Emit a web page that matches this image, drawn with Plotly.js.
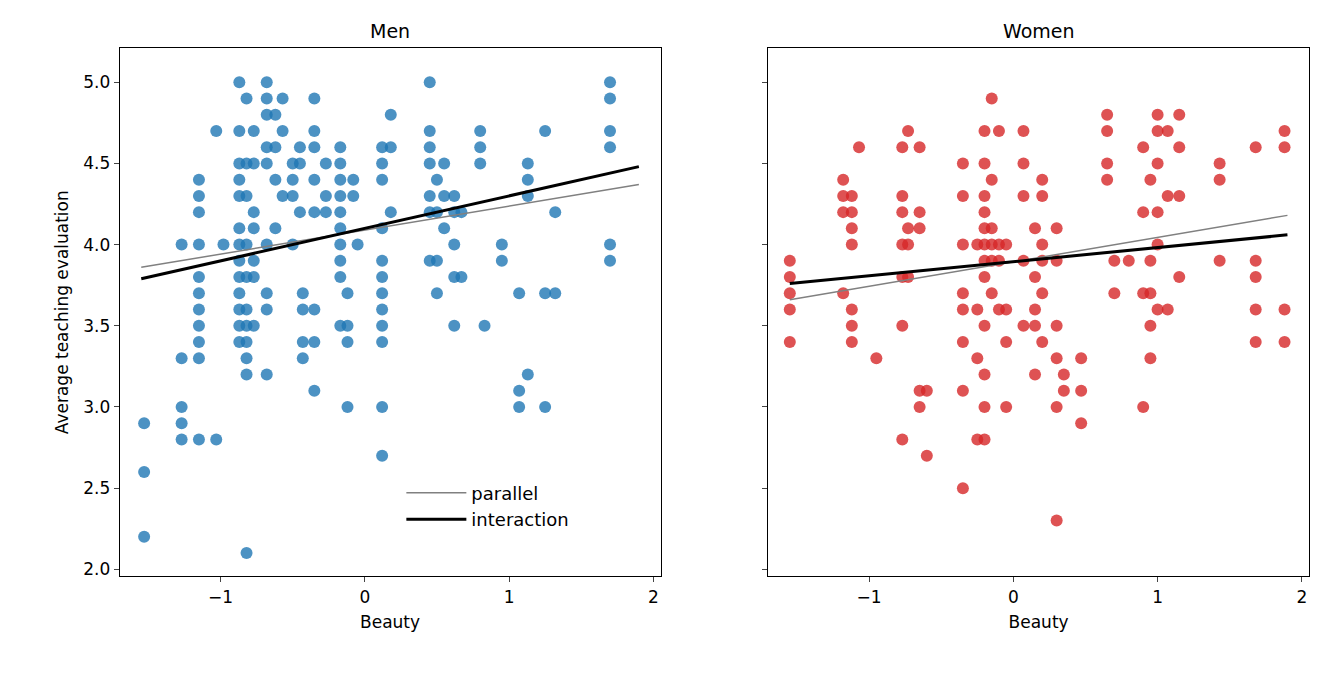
<!DOCTYPE html>
<html><head><meta charset="utf-8">
<script src="https://cdn.plot.ly/plotly-3.0.1.min.js"></script>
<style>body{margin:0}#chart{width:1329px;height:678px}</style>
</head><body><div id="chart"></div>
<script>
// beauty value, then the evaluations seen at that beauty value
var menCols = [
  [-1.53,[2.9,2.6,2.2]],
  [-1.27,[4.0,3.3,3.0,2.9,2.8]],
  [-1.15,[4.4,4.3,4.2,4.0,3.8,3.7,3.6,3.5,3.4,3.3,2.8]],
  [-1.03,[4.7,2.8]],
  [-0.98,[4.0]],
  [-0.87,[5.0,4.7,4.5,4.4,4.3,4.1,4.0,3.9,3.8,3.7,3.6,3.5,3.4]],
  [-0.82,[4.9,4.5,4.3,4.0,3.8,3.6,3.5,3.4,3.3,3.2,2.1]],
  [-0.77,[4.7,4.5,4.2,4.1,3.9,3.8,3.5]],
  [-0.68,[5.0,4.9,4.8,4.6,4.5,4.0,3.7,3.6,3.2]],
  [-0.62,[4.8,4.6,4.4,4.1]],
  [-0.57,[4.9,4.7,4.3]],
  [-0.5,[4.5,4.4,4.3,4.0]],
  [-0.45,[4.6,4.5,4.2]],
  [-0.43,[3.7,3.6,3.4,3.3]],
  [-0.35,[4.9,4.7,4.6,4.4,4.2,3.6,3.4,3.1]],
  [-0.27,[4.5,4.3,4.2]],
  [-0.17,[4.6,4.5,4.4,4.3,4.2,4.1,4.0,3.9,3.8,3.5]],
  [-0.12,[3.7,3.5,3.4,3.0]],
  [-0.08,[4.4,4.3]],
  [-0.05,[4.0]],
  [0.12,[4.6,4.5,4.4,4.1,3.9,3.8,3.7,3.6,3.5,3.4,3.0,2.7]],
  [0.18,[4.8,4.6,4.2]],
  [0.45,[5.0,4.7,4.6,4.5,4.3,4.2,3.9]],
  [0.5,[4.4,4.2,3.9,3.7]],
  [0.55,[4.5,4.3,4.1]],
  [0.62,[4.3,4.2,4.0,3.8,3.5]],
  [0.67,[4.2,3.8]],
  [0.8,[4.7,4.6,4.5]],
  [0.83,[3.5]],
  [0.95,[4.0,3.9]],
  [1.07,[3.7,3.1,3.0]],
  [1.13,[4.5,4.4,4.3,3.2]],
  [1.25,[4.7,3.7,3.0]],
  [1.32,[4.2,3.7]],
  [1.7,[5.0,4.9,4.7,4.6,4.0,3.9]]
];
var womenCols = [
  [-1.55,[3.9,3.8,3.7,3.6,3.4]],
  [-1.18,[4.4,4.3,4.2,3.7]],
  [-1.12,[4.3,4.2,4.1,4.0,3.6,3.5,3.4]],
  [-1.07,[4.6]],
  [-0.95,[3.3]],
  [-0.77,[4.6,4.3,4.2,4.0,3.8,3.5,2.8]],
  [-0.73,[4.7,4.1,4.0,3.8]],
  [-0.65,[4.6,4.2,4.1,3.1,3.0]],
  [-0.6,[3.1,2.7]],
  [-0.35,[4.5,4.3,4.0,3.7,3.6,3.4,3.1,2.5]],
  [-0.25,[4.0,3.6,3.3,2.8]],
  [-0.2,[4.7,4.5,4.3,4.2,4.1,4.0,3.9,3.8,3.5,3.2,3.0,2.8]],
  [-0.15,[4.9,4.4,4.1,4.0,3.9,3.7]],
  [-0.1,[4.7,4.0,3.9,3.6]],
  [-0.05,[4.0,3.6,3.4,3.0]],
  [0.07,[4.7,4.5,4.3,3.9,3.5]],
  [0.15,[4.1,3.8,3.6,3.5,3.2]],
  [0.2,[4.4,4.3,4.0,3.9,3.7,3.4]],
  [0.3,[4.1,3.9,3.5,3.3,3.0,2.3]],
  [0.35,[3.2,3.1]],
  [0.47,[3.3,3.1,2.9]],
  [0.65,[4.8,4.7,4.5,4.4]],
  [0.7,[3.9,3.7]],
  [0.8,[3.9]],
  [0.9,[4.6,4.2,3.7,3.0]],
  [0.95,[4.4,3.9,3.7,3.5,3.3]],
  [1.0,[4.8,4.7,4.5,4.2,4.0,3.6]],
  [1.07,[4.7,4.3,3.6]],
  [1.15,[4.8,4.6,4.3,3.8]],
  [1.43,[4.5,4.4,3.9]],
  [1.68,[4.6,3.9,3.8,3.6,3.4]],
  [1.88,[4.7,4.6,3.6,3.4]]
];
var lineX = [-1.55, 1.9];
var menParallel = [3.86, 4.37];
var menInteraction = [3.79, 4.48];
var womenParallel = [3.66, 4.18];
var womenInteraction = [3.76, 4.06];

function flat(cols) {
  var x = [], y = [];
  cols.forEach(function(c) { c[1].forEach(function(v) { x.push(c[0]); y.push(v); }); });
  return { x: x, y: y };
}
var m = flat(menCols), w = flat(womenCols);

var traces = [
  { x: m.x, y: m.y, type: 'scatter', mode: 'markers', xaxis: 'x', yaxis: 'y', showlegend: false,
    marker: { size: 12, color: '#1f77b4', opacity: 0.8 } },
  { x: w.x, y: w.y, type: 'scatter', mode: 'markers', xaxis: 'x2', yaxis: 'y2', showlegend: false,
    marker: { size: 12, color: '#d62728', opacity: 0.8 } },
  { x: lineX, y: menParallel, type: 'scatter', mode: 'lines', name: 'parallel', xaxis: 'x', yaxis: 'y',
    line: { color: 'gray', width: 1.5 } },
  { x: lineX, y: menInteraction, type: 'scatter', mode: 'lines', name: 'interaction', xaxis: 'x', yaxis: 'y',
    line: { color: 'black', width: 3 } },
  { x: lineX, y: womenParallel, type: 'scatter', mode: 'lines', xaxis: 'x2', yaxis: 'y2', showlegend: false,
    line: { color: 'gray', width: 1.5 } },
  { x: lineX, y: womenInteraction, type: 'scatter', mode: 'lines', xaxis: 'x2', yaxis: 'y2', showlegend: false,
    line: { color: 'black', width: 3 } }
];

var ax = { range: [-1.7, 2.05], tickvals: [-1, 0, 1, 2], ticktext: ['\u22121', '0', '1', '2'], showgrid: false, zeroline: false,
  showline: true, mirror: true, linecolor: 'black', ticks: 'outside', ticklen: 5, tickfont: { size: 17 } };
var ay = { range: [1.957, 5.21], tickvals: [2, 2.5, 3, 3.5, 4, 4.5, 5], showgrid: false, zeroline: false,
  showline: true, mirror: true, linecolor: 'black', ticks: 'outside', ticklen: 5, tickfont: { size: 17 } };

var layout = {
  width: 1329, height: 678,
  paper_bgcolor: 'white', plot_bgcolor: 'white',
  font: { family: 'DejaVu Sans', color: 'black', size: 17 },
  margin: { t: 0, r: 0, b: 0, l: 0 },
  xaxis: Object.assign({}, ax, { domain: [0.090, 0.497], anchor: 'y', title: { text: 'Beauty', font: { size: 17 }, standoff: 10 } }),
  yaxis: Object.assign({}, ay, { domain: [0.150, 0.929], anchor: 'x', tickformat: '.1f',
    title: { text: 'Average teaching evaluation', font: { size: 17 }, standoff: 10 } }),
  xaxis2: Object.assign({}, ax, { domain: [0.578, 0.985], anchor: 'y2', title: { text: 'Beauty', font: { size: 17 }, standoff: 10 } }),
  yaxis2: Object.assign({}, ay, { domain: [0.150, 0.929], anchor: 'x2', showticklabels: false }),
  legend: { x: 0.302, y: 0.3, xref: 'paper', yref: 'paper', xanchor: 'left', yanchor: 'top',
    bgcolor: 'rgba(255,255,255,0.8)', font: { size: 18 }, tracegroupgap: 0, itemwidth: 60 },
  annotations: [
    { text: 'Men', x: 0.2935, y: 0.935, xref: 'paper', yref: 'paper', xanchor: 'center', yanchor: 'bottom', showarrow: false, font: { size: 19 } },
    { text: 'Women', x: 0.7815, y: 0.935, xref: 'paper', yref: 'paper', xanchor: 'center', yanchor: 'bottom', showarrow: false, font: { size: 19 } }
  ]
};

Plotly.newPlot('chart', traces, layout, { displayModeBar: false, staticPlot: true });
</script>
</body></html>
